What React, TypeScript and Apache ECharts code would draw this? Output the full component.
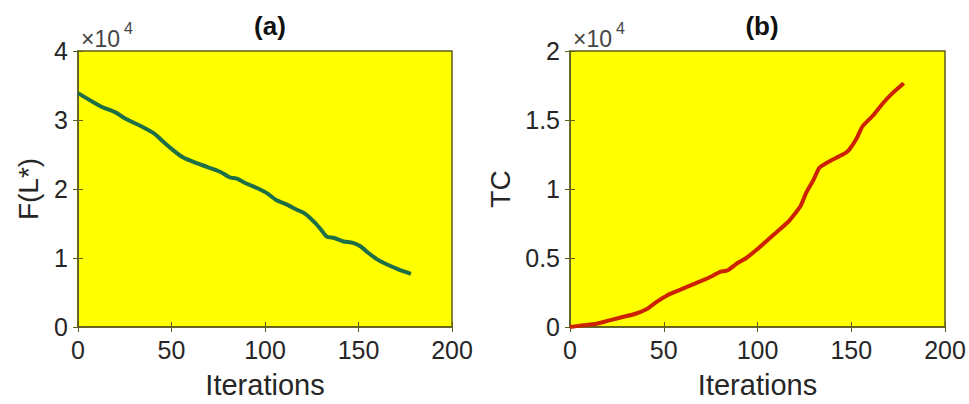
import React, { useEffect, useRef } from "react";
import * as echarts from "echarts";

const iterA = [0, 12, 20, 26, 33, 41, 45, 51, 56, 62, 69, 76, 81, 85, 90, 96, 101, 106, 112, 117, 121, 126, 130, 133, 137, 142, 147, 151, 155, 160, 165, 171, 178];
const fL = [33900, 32000, 31100, 30100, 29200, 28000, 27000, 25600, 24600, 23900, 23200, 22500, 21700, 21500, 20800, 20100, 19400, 18400, 17700, 17000, 16500, 15300, 14100, 13100, 12900, 12400, 12200, 11700, 10800, 9800, 9100, 8400, 7700];

const iterB = [0, 7, 14, 21, 28, 35, 41, 46, 52, 57, 64, 71, 76, 80, 84, 89, 94, 100, 105, 110, 116, 119, 123, 126, 130, 133, 137, 142, 147, 149, 153, 156, 162, 167, 172, 178];
const tc = [0, 120, 240, 480, 720, 960, 1300, 1800, 2300, 2600, 3000, 3400, 3700, 4000, 4100, 4600, 5000, 5650, 6250, 6850, 7570, 8050, 8770, 9740, 10700, 11540, 11900, 12260, 12620, 12860, 13700, 14540, 15380, 16230, 16950, 17670];

const xTicks = [0, 50, 100, 150, 200];
const yTicksA = [0, 1, 2, 3, 4];
const yTicksB = [0, 0.5, 1, 1.5, 2];

const FONT = "Liberation Sans, Arial, sans-serif";
const TXT = "#262626";
const FRAME = "#5e5e1c";

function fmtTick(v: number) {
  const s = v / 10000;
  return String(Math.round(s * 10) / 10);
}

export default function App() {
  const ref = useRef<HTMLDivElement>(null);
  useEffect(() => {
    const chart = echarts.init(ref.current!, null, { renderer: "svg" });
    const grids = [
      { left: 78, top: 51, width: 374, height: 278 },
      { left: 570, top: 51, width: 375, height: 278 },
    ].map((g) => ({ ...g, show: true, backgroundColor: "#ffff00", borderColor: FRAME, borderWidth: 1.5 }));

    const xMain = (gi: number) => ({
      type: "value",
      gridIndex: gi,
      min: xTicks[0],
      max: xTicks[xTicks.length - 1],
      interval: 50,
      name: "Iterations",
      nameLocation: "middle",
      nameGap: 43,
      nameTextStyle: { fontFamily: FONT, fontSize: 29, color: TXT },
      axisLine: { show: true, lineStyle: { color: FRAME, width: 1.5 } },
      axisTick: { show: true, inside: true, length: 5, lineStyle: { color: FRAME } },
      axisLabel: { fontFamily: FONT, fontSize: 25, color: TXT, margin: 10 },
      splitLine: { show: false },
    });
    const xTop = (gi: number) => ({
      type: "value",
      gridIndex: gi,
      position: "top",
      min: 0,
      max: 200,
      interval: 50,
      axisLine: { show: false },
      axisTick: { show: true, inside: true, length: 5, lineStyle: { color: FRAME } },
      axisLabel: { show: false },
      splitLine: { show: false },
    });
    const yMain = (gi: number, max: number, interval: number, name: string, gap: number) => ({
      type: "value",
      gridIndex: gi,
      min: 0,
      max,
      interval,
      name,
      nameLocation: "middle",
      nameGap: gap,
      nameTextStyle: { fontFamily: FONT, fontSize: 28, color: TXT },
      axisLine: { show: true, lineStyle: { color: FRAME, width: 1.5 } },
      axisTick: { show: true, inside: true, length: 5, lineStyle: { color: FRAME } },
      axisLabel: { fontFamily: FONT, fontSize: 25, color: TXT, margin: 10, formatter: fmtTick },
      splitLine: { show: false },
    });
    const yRight = (gi: number, max: number, interval: number) => ({
      type: "value",
      gridIndex: gi,
      position: "right",
      min: 0,
      max,
      interval,
      axisLine: { show: false },
      axisTick: { show: true, inside: true, length: 5, lineStyle: { color: FRAME } },
      axisLabel: { show: false },
      splitLine: { show: false },
    });

    const expo = (left: number) => [
      { type: "text", left, top: 27, style: { text: "×10", fontFamily: FONT, fontSize: 23, fill: "#444" } },
      { type: "text", left: left + 43, top: 20, style: { text: "4", fontFamily: FONT, fontSize: 16, fill: "#444" } },
    ];

    chart.setOption({
      animation: false,
      backgroundColor: "#ffffff",
      title: [
        { text: "(a)", left: 265, top: 8, textAlign: "center", textStyle: { fontFamily: FONT, fontSize: 26, fontWeight: "bold", color: "#111" } },
        { text: "(b)", left: 757, top: 8, textAlign: "center", textStyle: { fontFamily: FONT, fontSize: 26, fontWeight: "bold", color: "#111" } },
      ],
      graphic: [...expo(81), ...expo(573)],
      grid: grids,
      xAxis: [xMain(0), xMain(1), xTop(0), xTop(1)],
      yAxis: [
        yMain(0, yTicksA[yTicksA.length - 1] * 10000, 10000, "F(L*)", 36),
        yMain(1, yTicksB[yTicksB.length - 1] * 10000, 5000, "TC", 56),
        yRight(0, 40000, 10000),
        yRight(1, 20000, 5000),
      ],
      series: [
        {
          type: "line",
          xAxisIndex: 0,
          yAxisIndex: 0,
          data: iterA.map((x, i) => [x, fL[i]]),
          showSymbol: false,
          smooth: 0.2,
          lineStyle: { color: "#1e6e46", width: 4 },
        },
        {
          type: "line",
          xAxisIndex: 1,
          yAxisIndex: 1,
          data: iterB.map((x, i) => [x, tc[i]]),
          showSymbol: false,
          smooth: 0.2,
          lineStyle: { color: "#cc2200", width: 4 },
        },
      ],
    });
    return () => chart.dispose();
  }, []);
  return <div ref={ref} style={{ position: "fixed", left: 0, top: 0, width: 969, height: 404 }} />;
}
